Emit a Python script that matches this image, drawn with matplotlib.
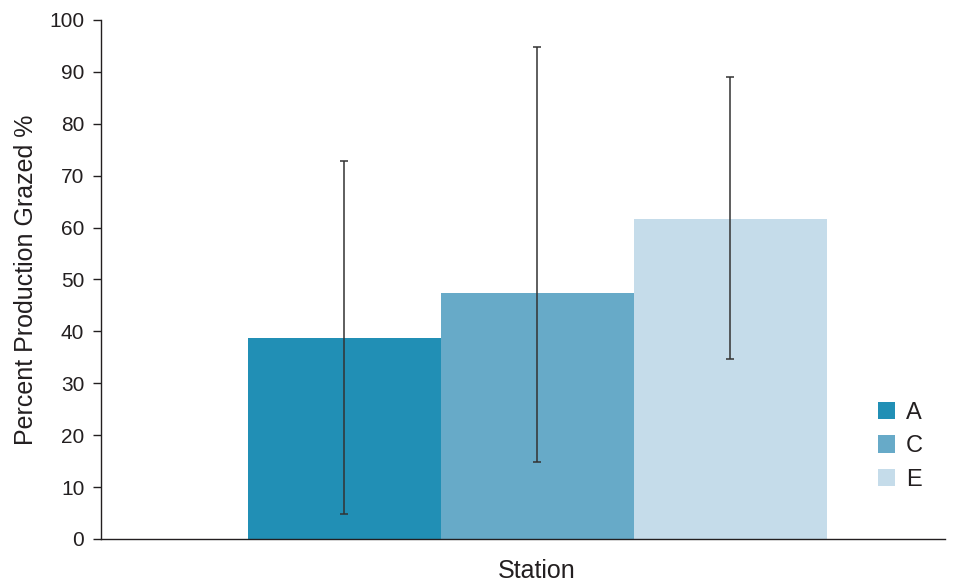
import matplotlib
matplotlib.use("Agg")
import matplotlib.pyplot as plt
import numpy as np

# Grazing by station, means with error bar extents
stations = ["A", "C", "E"]
grazed = [38.7, 47.4, 61.7]
err_low = [4.8, 14.8, 34.7]
err_high = [72.8, 94.8, 89.0]
colors = ["#218fb5", "#67aac8", "#c5dcea"]

plt.rcParams["font.family"] = ["Liberation Sans", "DejaVu Sans"]
text_color = "#231f20"

fig = plt.figure(figsize=(9.59, 5.81), dpi=100)
ax = fig.add_axes([0.1053, 0.0723, 0.8797, 0.8933])

x = np.arange(len(stations))
lower = np.array(grazed) - np.array(err_low)
upper = np.array(err_high) - np.array(grazed)

for i, name in enumerate(stations):
    ax.bar(x[i], grazed[i], width=1.0, color=colors[i], label=name, zorder=2)
ax.errorbar(x, grazed, yerr=[lower, upper], fmt="none", ecolor="#333333",
            elinewidth=1.1, capsize=3, capthick=1.1, zorder=3)

ax.set_xlim(-1.2617, 3.111)
ax.set_ylim(0, 100)
ax.set_yticks(np.arange(0, 101, 10))
ax.set_xticks([])

for side in ["top", "right"]:
    ax.spines[side].set_visible(False)
for side in ["left", "bottom"]:
    ax.spines[side].set_color(text_color)
    ax.spines[side].set_linewidth(1.0)

ax.tick_params(axis="y", direction="out", length=6, width=1.0,
               color=text_color, labelsize=15, labelcolor=text_color, pad=6)

ax.set_ylabel("Percent Production Grazed %", fontsize=18, color=text_color, labelpad=8)
ax.set_xlabel("Station", fontsize=18, color=text_color)
ax.xaxis.set_label_coords(0.517, -0.038)

ax.legend(loc="center left", bbox_to_anchor=(0.903, 0.232), bbox_transform=fig.transFigure,
          frameon=False, fontsize=17, handlelength=0.75, handleheight=0.75,
          handletextpad=0.45, labelspacing=0.48, borderpad=0, labelcolor=text_color)

fig.savefig("out.png", dpi=100)
